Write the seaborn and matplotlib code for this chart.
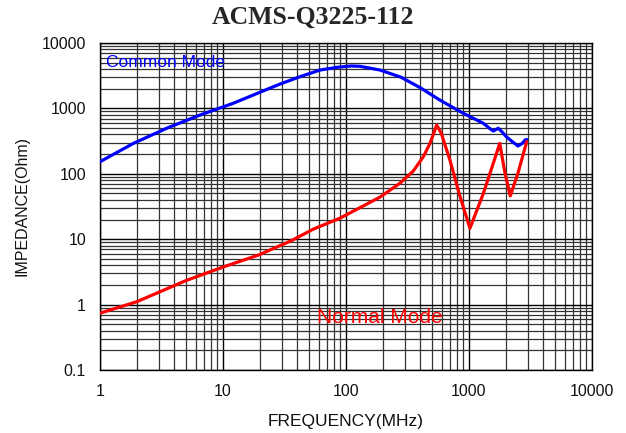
import numpy as np
import pandas as pd
import matplotlib
matplotlib.use("Agg")
import matplotlib.pyplot as plt
import seaborn as sns
from matplotlib.ticker import LogLocator, FixedLocator, FixedFormatter, NullFormatter

# ---- data ----
cm_freq = [1, 1.87, 3.48, 6.5, 12.1, 22.7, 29, 42.3, 61.5, 85, 110, 130, 189,
           280, 400, 580, 899, 1308, 1480, 1576, 1730, 1850, 2010, 2250, 2500,
           2700, 2860, 2944]
cm_imp = [153, 292, 497, 792, 1197, 1950, 2350, 3055, 3860, 4250, 4450, 4400,
          3860, 3000, 2080, 1340, 841, 592, 490, 451, 497, 440, 369, 310, 266,
          290, 329, 335]

nm_freq = [1, 2, 5, 10.2, 19.3, 36, 54, 89, 189, 275, 352, 425, 482, 520, 546,
           595, 700, 845, 1018, 1308, 1576, 1778, 1962, 2165, 2500, 2944]
nm_imp = [0.74, 1.11, 2.33, 3.8, 5.7, 9.5, 14.2, 20.9, 44, 72, 110, 182, 292,
          430, 557, 417, 162, 45, 14.7, 50, 145, 292, 102, 46, 102, 309]

x_ticks = [1, 10, 100, 1000, 10000]
x_ticklabels = ["1", "10", "100", "1000", "10000"]
y_ticks = [0.1, 1, 10, 100, 1000, 10000]
y_ticklabels = ["0.1", "1", "10", "100", "1000", "10000"]

title = "ACMS-Q3225-112"
xlabel = "FREQUENCY(MHz)"
ylabel = "IMPEDANCE(Ohm)"
series_names = ["Common Mode", "Normal Mode"]
colors = {"Common Mode": "#0000ff", "Normal Mode": "#ff0000"}

df = pd.concat([
    pd.DataFrame({"freq": cm_freq, "imp": cm_imp, "mode": series_names[0]}),
    pd.DataFrame({"freq": nm_freq, "imp": nm_imp, "mode": series_names[1]}),
])

sns.set_style("white")
plt.rcParams["font.family"] = ["Liberation Sans", "DejaVu Sans"]

fig = plt.figure(figsize=(6.26, 4.33), dpi=100)
ax = fig.add_axes([100 / 626, 1 - 370 / 433, 492 / 626, 327 / 433])

ax.set_xscale("log")
ax.set_yscale("log")
sns.lineplot(data=df, x="freq", y="imp", hue="mode", palette=colors,
             estimator=None, sort=False, linewidth=2.3, legend=False, ax=ax,
             zorder=3)
for ln in ax.get_lines():
    ln.set_solid_joinstyle("round")
    ln.set_solid_capstyle("round")

ax.set_xlim(1, 10000)
ax.set_ylim(0.1, 10000)
ax.xaxis.set_major_locator(FixedLocator(x_ticks))
ax.xaxis.set_major_formatter(FixedFormatter(x_ticklabels))
ax.yaxis.set_major_locator(FixedLocator(y_ticks))
ax.yaxis.set_major_formatter(FixedFormatter(y_ticklabels))
ax.xaxis.set_minor_locator(LogLocator(base=10, subs=np.arange(2, 10), numticks=20))
ax.yaxis.set_minor_locator(LogLocator(base=10, subs=np.arange(2, 10), numticks=20))
ax.xaxis.set_minor_formatter(NullFormatter())
ax.yaxis.set_minor_formatter(NullFormatter())

ax.grid(True, which="major", color="#000000", linewidth=1.0)
ax.grid(True, which="minor", color="#333333", linewidth=0.9)
ax.tick_params(which="both", length=0, labelsize=11.5, colors="#111111")
ax.tick_params(axis="x", pad=10)
ax.tick_params(axis="y", pad=10)
for s in ax.spines.values():
    s.set_color("#000000")
    s.set_linewidth(1.0)

ax.set_xlabel(xlabel, fontsize=12.5, labelpad=11, color="#111111")
ax.set_ylabel(ylabel, fontsize=11.5, labelpad=9, color="#111111")

fig.text(0.5, 1 - 17 / 433, title, ha="center", va="center", fontsize=18.5,
         fontweight="bold", family=["Liberation Serif", "DejaVu Serif"])

ax.text(1.12, 5000, series_names[0], color=colors["Common Mode"], fontsize=12.5,
        ha="left", va="center", zorder=4)
ax.text(189, 0.645, series_names[1], color=colors["Normal Mode"], fontsize=15,
        ha="center", va="center", zorder=4)

fig.savefig("out.png", dpi=100, facecolor="white")
